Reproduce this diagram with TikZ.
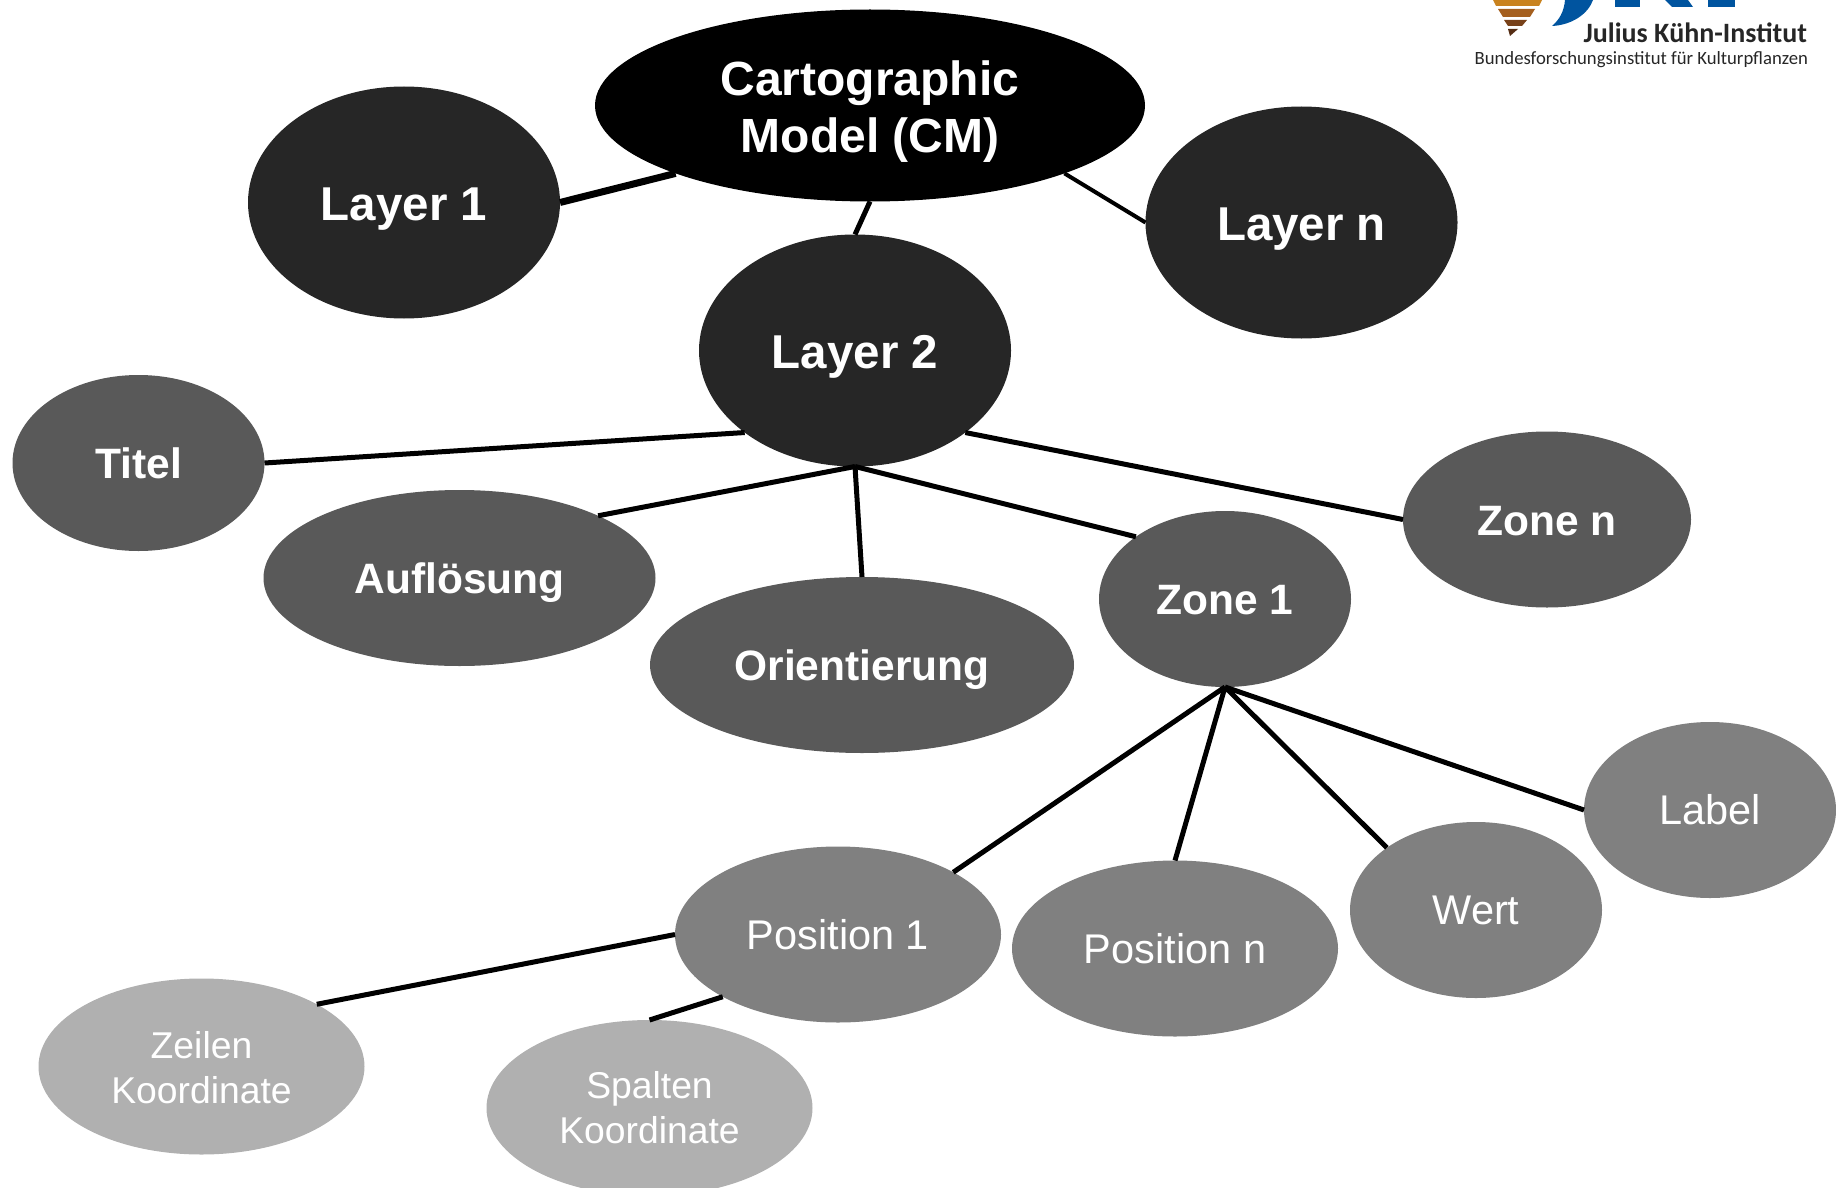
\documentclass[tikz,border=0pt]{standalone}
\usepackage{fontspec}
\usepackage{tikz}
\usetikzlibrary{shapes.geometric}
\setmainfont{Liberation Sans}
\newfontfamily\logofont{Carlito}

\begin{document}
\begin{tikzpicture}
        [x=1pt,y=-1pt,
        every node/.style={ellipse,inner sep=0pt,outer sep=0pt,minimum height=176pt,text=white,align=center},
        layerC/.style={fill=black!85,minimum width=312pt,minimum height=232pt,text height=35pt,text depth=0pt,font=\fontsize{47.5}{56}\selectfont\bfseries},
        groupC/.style={fill=black!65,text height=31pt,text depth=0pt,font=\fontsize{42.5}{50}\selectfont\bfseries},
        itemC/.style={fill=black!50,text height=29.5pt,text depth=0pt,font=\fontsize{41.5}{48}\selectfont},
        leafC/.style={fill=black!31,font=\fontsize{37.3}{45}\selectfont},
        edge/.style={color=black,line width=5pt},
        logoBlue/.style={fill={rgb,255:red,0;green,84;blue,159}},
        logotext/.style={rectangle,text=black!85,anchor=east,inner sep=0pt,minimum height=0pt}]
%%
\useasboundingbox (0,0) rectangle (1836,1188);
\clip (0,0) rectangle (1836,1188);
%%
%% Drawing the nodes
%%
\node[fill=black,minimum width=550pt,minimum height=192pt,font=\fontsize{48}{57.5}\selectfont\bfseries] (cm) at (870,105.5) {\rule{0pt}{47pt}Cartographic\\Model (CM)};
%%
\node[layerC] (layerA) at (404,202.5) {Layer 1};
\node[layerC] (layerB) at (855,350.5) {Layer 2};
\node[layerC] (layerN) at (1301.5,222.5) {Layer n};
%%
\node[groupC,minimum width=252pt] (titel) at (138.5,463) {Titel};
\node[groupC,minimum width=392pt] (aufloesung) at (459.5,578) {Auflösung};
\node[groupC,minimum width=424pt] (orientierung) at (862,665) {Orientierung};
\node[groupC,minimum width=252pt] (zoneA) at (1225,599) {Zone 1};
\node[groupC,minimum width=288pt] (zoneN) at (1547,519.5) {Zone n};
%%
\node[itemC,minimum width=326pt] (posA) at (838,934.5) {Position 1};
\node[itemC,minimum width=326pt] (posN) at (1175,948.5) {Position n};
\node[itemC,minimum width=252pt] (wert) at (1476,910) {Wert};
\node[itemC,minimum width=252pt] (label) at (1710,810) {Label};
%%
\node[leafC,minimum width=326pt] (zeilen) at (201.5,1066.5) {\rule{0pt}{30pt}Zeilen\\Koordinate};
\node[leafC,minimum width=326pt] (spalten) at (649.5,1108) {Spalten\\Koordinate};
%%
%% Drawing the edges
%%
\draw[edge,line width=7pt] (layerA.east) -- (cm.south west);
\draw[edge] (cm.south) -- (layerB.north);
\draw[edge,line width=4pt] (cm.south east) -- (layerN.west);
%%
\draw[edge] (layerB.south west) -- (titel.east);
\draw[edge] (layerB.south) -- (aufloesung.north east);
\draw[edge] (layerB.south) -- (orientierung.north);
\draw[edge] (layerB.south) -- (zoneA.north west);
\draw[edge] (layerB.south east) -- (zoneN.west);
%%
\draw[edge] (zoneA.south) -- (posA.north east);
\draw[edge] (zoneA.south) -- (posN.north);
\draw[edge] (zoneA.south) -- (wert.north west);
\draw[edge] (zoneA.south) -- (label.west);
%%
\draw[edge] (posA.west) -- (zeilen.north east);
\draw[edge] (posA.south west) -- (spalten.north);
%%
%% Drawing the logo
%%
\fill[color={rgb,255:red,201;green,130;blue,30}] (1493,0) -- (1542,0) -- (1539,6) -- (1496,6) -- cycle;
\fill[color={rgb,255:red,165;green,95;blue,30}] (1498,9) -- (1535,9) -- (1530,17) -- (1503,17) -- cycle;
\fill[color={rgb,255:red,120;green,65;blue,25}] (1504,20) -- (1527,20) -- (1522,26) -- (1508,26) -- cycle;
\fill[color={rgb,255:red,85;green,45;blue,20}] (1508,29) -- (1518,29) -- (1510,36) -- cycle;
\fill[logoBlue] (1565,0) .. controls (1564,12) and (1559,20) .. (1552,26) .. controls (1572,25) and (1588,14) .. (1593,0) -- cycle;
\fill[logoBlue] (1615,0) rectangle (1640,7);
\fill[logoBlue] (1665,0) -- (1688,0) -- (1693,7) -- (1672,7) -- cycle;
\fill[logoBlue] (1708,0) rectangle (1735,7);
\node[logotext,font=\logofont\fontsize{28}{32}\selectfont\bfseries] (logoA) at (1807,33) {Julius Kühn-Institut};
\node[logotext,font=\logofont\fontsize{18.7}{23}\selectfont] (logoB) at (1808,60) {Bundesforschungsinstitut für Kulturpflanzen};
\end{tikzpicture}
\end{document}
